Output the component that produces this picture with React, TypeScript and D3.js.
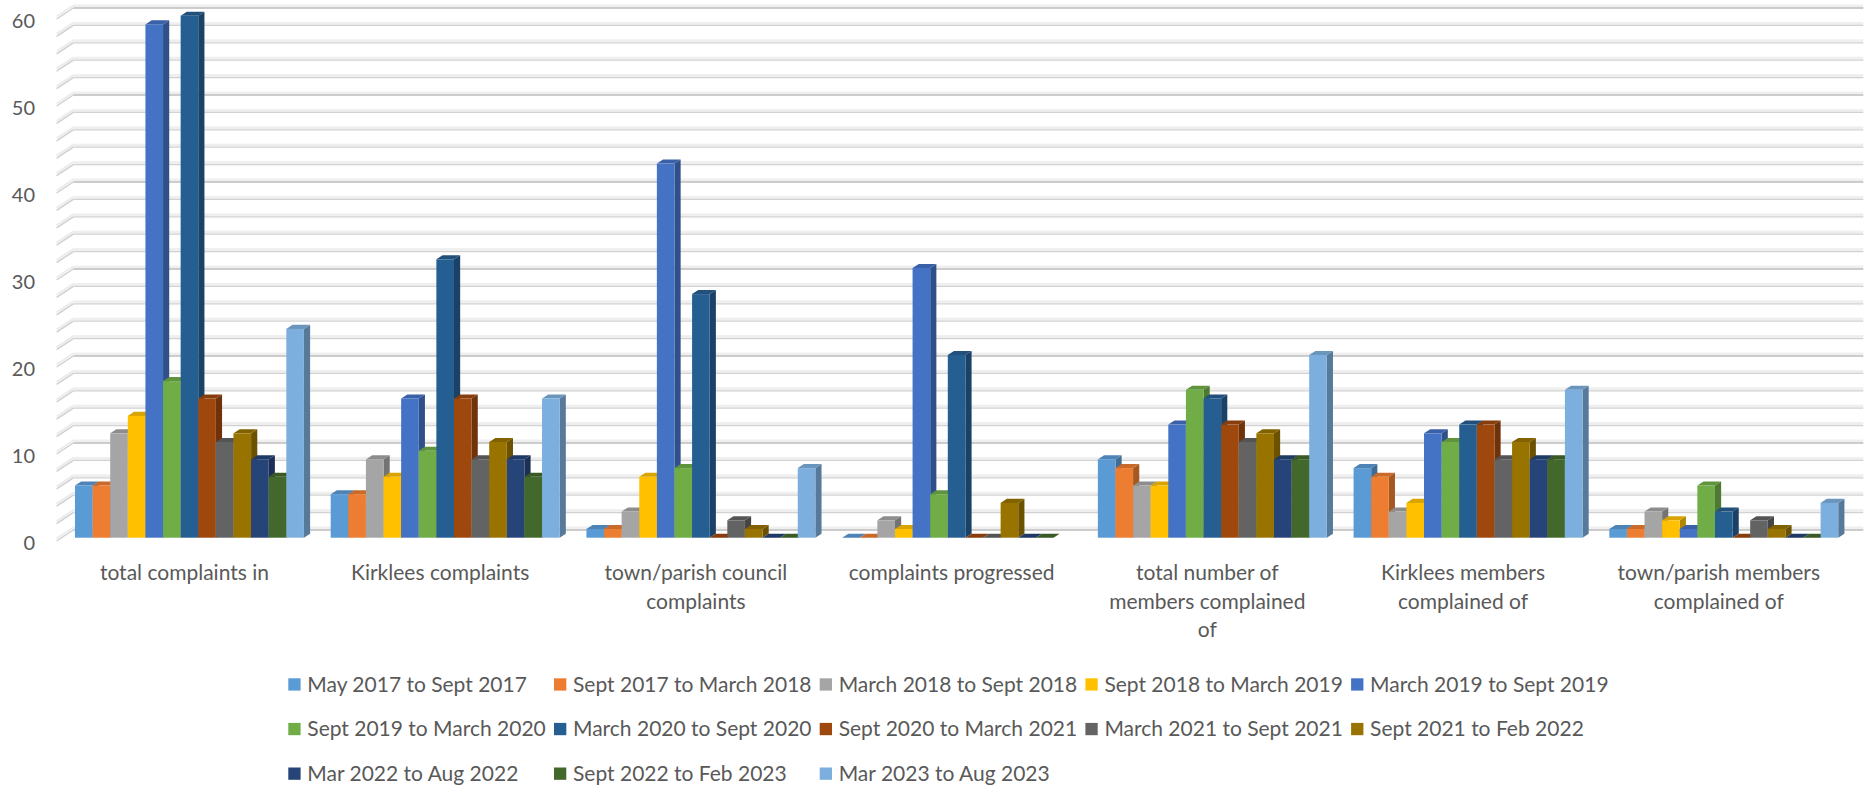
import React from "react";
import * as d3 from "d3";

// Categories along the x axis
const categories = [
  "total complaints in",
  "Kirklees complaints",
  "town/parish council complaints",
  "complaints progressed",
  "total number of members complained of",
  "Kirklees members complained of",
  "town/parish members complained of",
];

// Reporting periods (series)
const seriesNames = [
  "May 2017 to Sept 2017",
  "Sept 2017 to March 2018",
  "March 2018 to Sept 2018",
  "Sept 2018 to March 2019",
  "March 2019 to Sept 2019",
  "Sept 2019 to March 2020",
  "March 2020 to Sept 2020",
  "Sept 2020 to March 2021",
  "March 2021 to Sept 2021",
  "Sept 2021 to Feb 2022",
  "Mar 2022 to Aug 2022",
  "Sept 2022 to Feb 2023",
  "Mar 2023 to Aug 2023",
];

// Values per period, one entry per category
const may2017 = [6, 5, 1, 0, 9, 8, 1];
const sept2017 = [6, 5, 1, 0, 8, 7, 1];
const mar2018 = [12, 9, 3, 2, 6, 3, 3];
const sept2018 = [14, 7, 7, 1, 6, 4, 2];
const mar2019 = [59, 16, 43, 31, 13, 12, 1];
const sept2019 = [18, 10, 8, 5, 17, 11, 6];
const mar2020 = [60, 32, 28, 21, 16, 13, 3];
const sept2020 = [16, 16, 0, 0, 13, 13, 0];
const mar2021 = [11, 9, 2, 0, 11, 9, 2];
const sept2021 = [12, 11, 1, 4, 12, 11, 1];
const mar2022 = [9, 9, 0, 0, 9, 9, 0];
const sept2022 = [7, 7, 0, 0, 9, 9, 0];
const mar2023: (number | null)[] = [24, 16, 8, null, 21, 17, 4];

const seriesValues: (number | null)[][] = [
  may2017, sept2017, mar2018, sept2018, mar2019, sept2019, mar2020,
  sept2020, mar2021, sept2021, mar2022, sept2022, mar2023,
];

const seriesColors = [
  "#5B9BD5", "#ED7D31", "#A5A5A5", "#FFC000", "#4472C4", "#70AD47",
  "#255E91", "#9E480E", "#636363", "#997300", "#264478", "#43682B", "#7CAFDD",
];

const yTicks = [0, 10, 20, 30, 40, 50, 60];

const W = 1865;
const H = 790;
const FONT = "Lato, 'Open Sans', 'DejaVu Sans', sans-serif";
const TEXT = "#595959";

// 3D floor geometry: front edge of the floor and the vector to the back wall
const floorFrontY = 541;
const floorLeft = 56.6;
const floorRight = 1846.6;
const depth = { x: 16.7, y: -11 };
const barFront = 0.3;
const barBack = 0.67;

function wrapLabel(text: string, maxWidth: number, font: string): string[] {
  const ctx = document.createElement("canvas").getContext("2d");
  if (!ctx) return [text];
  ctx.font = font;
  const words = text.split(" ");
  const lines: string[] = [];
  let cur = "";
  for (const w of words) {
    const trial = cur ? cur + " " + w : w;
    if (ctx.measureText(trial).width > maxWidth && cur) {
      lines.push(cur);
      cur = w;
    } else {
      cur = trial;
    }
  }
  if (cur) lines.push(cur);
  return lines;
}

export default function App() {
  const x = d3
    .scaleBand<string>()
    .domain(categories)
    .range([floorLeft, floorRight])
    .paddingInner(0.1047)
    .paddingOuter(0.0523);
  const xs = d3
    .scaleBand<string>()
    .domain(seriesNames)
    .range([0, x.bandwidth()]);
  const y = d3.scaleLinear().domain([0, 60]).range([floorFrontY, floorFrontY - 522]);

  const gridVals = d3.range(0, 61, 2);
  const backLeft = floorLeft + depth.x;
  const backRight = floorRight + depth.x;

  const fx = barFront * depth.x;
  const fy = barFront * depth.y;
  const ddx = (barBack - barFront) * depth.x;
  const ddy = (barBack - barFront) * depth.y;

  const catFont = `21px ${FONT}`;

  const bars: React.ReactNode[] = [];
  categories.forEach((cat, ci) => {
    seriesNames.forEach((s, si) => {
      const v = seriesValues[si][ci];
      if (v === null || v === undefined) return;
      const color = seriesColors[si];
      const x0 = (x(cat) as number) + (xs(s) as number) + fx;
      const x1 = x0 + xs.bandwidth();
      const yb = y(0) + fy;
      const yt = y(v) + fy;
      const top = d3.color(color)!.darker(0.45).formatHex();
      const side = d3.color(color)!.darker(1.0).formatHex();
      bars.push(
        <g key={`${ci}-${si}`}>
          <polygon
            points={`${x1},${yt} ${x1 + ddx},${yt + ddy} ${x1 + ddx},${yb + ddy} ${x1},${yb}`}
            fill={side}
          />
          <polygon
            points={`${x0},${yt} ${x0 + ddx},${yt + ddy} ${x1 + ddx},${yt + ddy} ${x1},${yt}`}
            fill={top}
          />
          {v > 0 && <rect x={x0} y={yt} width={x1 - x0} height={yb - yt} fill={color} />}
        </g>
      );
    });
  });

  return (
    <svg
      width={W}
      height={H}
      style={{ position: "absolute", left: 0, top: 0, background: "#ffffff" }}
      fontFamily={FONT}
    >
      <rect width={W} height={H} fill="#ffffff" />

      {/* back wall and side wall gridlines */}
      <g>
        {gridVals.map((v) => {
          const yf = y(v);
          const yk = yf + depth.y;
          const major = v % 10 === 0;
          return (
            <g key={v}>
              <rect x={backLeft} y={yk - 3.5} width={backRight - backLeft} height={3} fill="#efefef" />
              <line
                x1={backLeft}
                x2={backRight}
                y1={yk}
                y2={yk}
                stroke={major ? "#bdbdbd" : "#d2d2d2"}
                strokeWidth={major ? 1.6 : 1.3}
              />
              <line x1={floorLeft} y1={yf - 2.5} x2={backLeft} y2={yk - 2.5} stroke="#ececec" strokeWidth={2} />
              <line x1={floorLeft} y1={yf} x2={backLeft} y2={yk} stroke="#cfcfcf" strokeWidth={1.4} />
            </g>
          );
        })}
      </g>

      {/* bars */}
      <g>{bars}</g>

      {/* y axis labels */}
      <g fontSize={20} fill={TEXT} textAnchor="end">
        {yTicks.map((t) => (
          <text key={t} x={35} y={y(t) + 2} dy="0.35em">
            {t}
          </text>
        ))}
      </g>

      {/* category labels */}
      <g fontSize={21} fill={TEXT} textAnchor="middle">
        {categories.map((c) => {
          const lines = wrapLabel(c, 214, catFont);
          const cx = (x(c) as number) + x.bandwidth() / 2;
          return (
            <text key={c} x={cx} y={573} dy="0.35em">
              {lines.map((ln, i) => (
                <tspan key={i} x={cx} dy={i === 0 ? "0.35em" : 28.4}>
                  {ln}
                </tspan>
              ))}
            </text>
          );
        })}
      </g>

      {/* legend */}
      <g fontSize={21} fill={TEXT}>
        {seriesNames.map((s, i) => {
          const row = Math.floor(i / 5);
          const col = i % 5;
          const mx = 288.3 + 265.7 * col;
          const my = 684.5 + 44.6 * row;
          return (
            <g key={s}>
              <rect x={mx} y={my - 6.2} width={12.3} height={12.3} fill={seriesColors[i]} />
              <text x={mx + 19} y={my} dy="0.35em">
                {s}
              </text>
            </g>
          );
        })}
      </g>
    </svg>
  );
}
